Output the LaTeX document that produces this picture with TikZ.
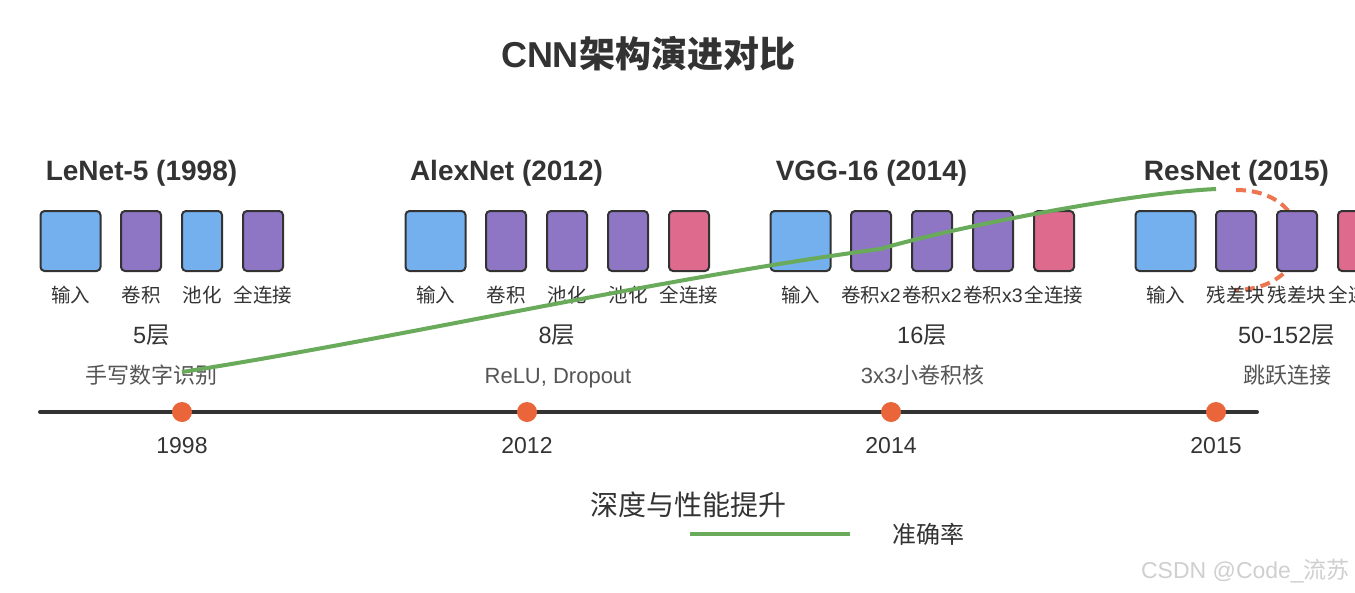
\documentclass[tikz,border=0pt]{standalone}
\usepackage{fontspec}
\setmainfont{Liberation Sans}
\newfontfamily\cjk{Noto Sans CJK SC}
\newcommand\zh[1]{{\cjk #1}}
\definecolor{ink}{HTML}{333333}
\definecolor{subink}{HTML}{555555}
\definecolor{inblue}{HTML}{74B0EE}
\definecolor{cpurple}{HTML}{8E76C4}
\definecolor{fcpink}{HTML}{DE6A8E}
\definecolor{dotorange}{HTML}{EA6539}
\definecolor{dashorange}{HTML}{ED7650}
\definecolor{accgreen}{HTML}{69AA5B}
\definecolor{wmark}{HTML}{CFCFCF}
\begin{document}
\begin{tikzpicture}[x=1pt,y=-1pt,
  nnbox/.style={draw=ink, line width=2pt, rounded corners=4pt, minimum height=60pt, inner sep=0pt},
  inbox/.style={nnbox, fill=inblue, minimum width=60pt},
  cbox/.style={nnbox, fill=cpurple, minimum width=40pt},
  pbox/.style={nnbox, fill=inblue, minimum width=40pt},
  fbox/.style={nnbox, fill=fcpink, minimum width=40pt},
  lbl/.style={text=ink, anchor=base, inner sep=0pt, font=\fontsize{19.5}{22}\selectfont},
  head/.style={text=ink, anchor=base, inner sep=0pt, font=\bfseries\fontsize{28}{31}\selectfont},
  lay/.style={text=ink, anchor=base, inner sep=0pt, font=\fontsize{23.5}{26}\selectfont},
  desc/.style={text=subink, anchor=base, inner sep=0pt, font=\fontsize{22}{25}\selectfont},
  year/.style={text=ink, anchor=base, inner sep=0pt, font=\fontsize{23}{26}\selectfont},
  dot/.style={circle, fill=dotorange, minimum size=20pt, inner sep=0pt},
]
\useasboundingbox (0,0) rectangle (1355,592);
\clip (0,0) rectangle (1355,592);
\fill[white] (0,0) rectangle (1355,592);

% title
\node[text=ink, anchor=base, inner sep=0pt, font=\bfseries\fontsize{36}{40}\selectfont] (title) at (648,67) {CNN\zh{架构演进对比}};

% skip connection (under boxes)
\coordinate (s0) at (1236,190);
\coordinate (s1) at (1234,290);
\draw[dashorange, line width=4pt, dash pattern=on 10pt off 6pt] (s0) .. controls (1320,190) and (1320,290) .. (s1);

% headings
\node[head] (h1) at (141.5,180) {LeNet-5 (1998)};
\node[head] (h2) at (506.5,180) {AlexNet (2012)};
\node[head] (h3) at (871.5,180) {VGG-16 (2014)};
\node[head] (h4) at (1236.5,180) {ResNet (2015)};

% LeNet
\node[inbox] (l0) at (70.5,241) {};
\node[cbox]  (l1) at (141,241) {};
\node[pbox]  (l2) at (202,241) {};
\node[cbox]  (l3) at (263,241) {};
\node[lbl] (lt0) at (70.5,302) {\zh{输入}};
\node[lbl] (lt1) at (141,302) {\zh{卷积}};
\node[lbl] (lt2) at (202,302) {\zh{池化}};
\node[lbl] (lt3) at (263,302) {\zh{全连接}};
\node[lay] (ll) at (151.5,343) {5\zh{层}};
\node[desc] (ld) at (151.5,383) {\zh{手写数字识别}};

% AlexNet
\node[inbox] (a0) at (435.5,241) {};
\node[cbox]  (a1) at (506,241) {};
\node[cbox]  (a2) at (567,241) {};
\node[cbox]  (a3) at (628,241) {};
\node[fbox]  (a4) at (689,241) {};
\node[lbl] (at0) at (435.5,302) {\zh{输入}};
\node[lbl] (at1) at (506,302) {\zh{卷积}};
\node[lbl] (at2) at (567,302) {\zh{池化}};
\node[lbl] (at3) at (628,302) {\zh{池化}};
\node[lbl] (at4) at (689,302) {\zh{全连接}};
\node[lay] (al) at (557,343) {8\zh{层}};
\node[desc] (ad) at (558,383) {ReLU, Dropout};

% VGG
\node[inbox] (v0) at (800.5,241) {};
\node[cbox]  (v1) at (871,241) {};
\node[cbox]  (v2) at (932,241) {};
\node[cbox]  (v3) at (993,241) {};
\node[fbox]  (v4) at (1054,241) {};
\node[lbl] (vt0) at (800.5,302) {\zh{输入}};
\node[lbl] (vt1) at (871,302) {\zh{卷积}x2};
\node[lbl] (vt2) at (932,302) {\zh{卷积}x2};
\node[lbl] (vt3) at (993,302) {\zh{卷积}x3};
\node[lbl] (vt4) at (1054,302) {\zh{全连接}};
\node[lay] (vl) at (922,343) {16\zh{层}};
\node[desc] (vd) at (922.5,383) {3x3\zh{小卷积核}};

% ResNet
\node[inbox] (r0) at (1165.5,241) {};
\node[cbox]  (r1) at (1236,241) {};
\node[cbox]  (r2) at (1297,241) {};
\node[fbox]  (r3) at (1358,241) {};
\node[lbl] (rt0) at (1165.5,302) {\zh{输入}};
\node[lbl] (rt1) at (1236,302) {\zh{残差块}};
\node[lbl] (rt2) at (1297,302) {\zh{残差块}};
\node[lbl] (rt3) at (1358,302) {\zh{全连接}};
\node[lay] (rl) at (1286.5,343) {50-152\zh{层}};
\node[desc] (rd) at (1287.5,383) {\zh{跳跃连接}};

% timeline
\coordinate (t0) at (40,412);
\coordinate (t1) at (1257,412);
\draw[ink, line width=4pt, line cap=round] (t0) -- (t1);
\node[dot] (d1) at (182,412) {};
\node[dot] (d2) at (527,412) {};
\node[dot] (d3) at (891,412) {};
\node[dot] (d4) at (1216,412) {};
\node[year] (y1) at (182,453) {1998};
\node[year] (y2) at (527,453) {2012};
\node[year] (y3) at (891,453) {2014};
\node[year] (y4) at (1216,453) {2015};

% accuracy curve
\coordinate (g0) at (182,372);
\coordinate (g1) at (880,249);
\coordinate (g2) at (1216,189);
\draw[accgreen, line width=4pt] (g0) .. controls (400,338) and (650,280) .. (g1) .. controls (955,227) and (1130,193) .. (g2);

% legend
\node[text=ink, anchor=base, inner sep=0pt, font=\fontsize{28}{32}\selectfont] (lg) at (688,515) {\zh{深度与性能提升}};
\coordinate (k0) at (690,534);
\coordinate (k1) at (850,534);
\draw[accgreen, line width=4pt] (k0) -- (k1);
\node[text=ink, anchor=base, inner sep=0pt, font=\fontsize{24}{28}\selectfont] (lk) at (928,543) {\zh{准确率}};

% watermark
\node[text=wmark, anchor=base east, inner sep=0pt, font=\fontsize{23}{26}\selectfont] (wm) at (1350,578) {CSDN @Code\_\zh{流苏}};
\end{tikzpicture}
\end{document}
